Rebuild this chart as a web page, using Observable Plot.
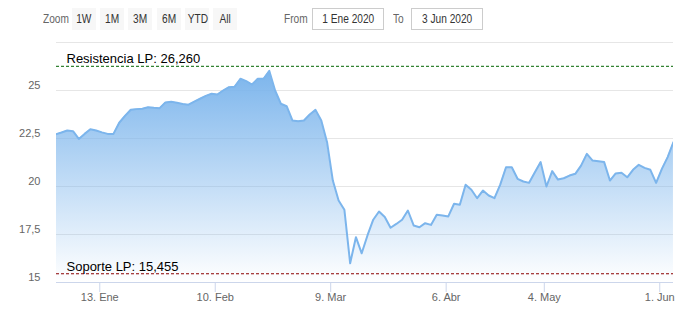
<!DOCTYPE html>
<html><head><meta charset="utf-8">
<script src="https://cdn.jsdelivr.net/npm/d3@7"></script>
<script src="https://cdn.jsdelivr.net/npm/@observablehq/plot@0.6"></script>
<style>
body{margin:0;background:#fff;}
#wrap{position:relative;width:686px;height:322px;overflow:hidden;}
.tb{position:absolute;font-family:"Liberation Sans",Arial,sans-serif;font-size:13px;white-space:nowrap;}
.tb span{display:inline-block;transform:scaleX(0.78);}
.lbl{color:#666;top:11px;}
.lbl span{transform-origin:left center;}
.btn{background:#f7f7f7;color:#333;top:8px;width:24px;height:22px;line-height:22px;text-align:center;}
.inp{border:1px solid #ccc;color:#333;top:8px;width:70px;height:20px;line-height:20px;text-align:center;box-sizing:content-box;}
#chart{position:absolute;left:0;top:0;}
</style></head>
<body>
<div id="wrap">
  <div id="chart"></div>
  <div class="tb lbl" style="left:43px;"><span>Zoom</span></div>
  <div class="tb btn" style="left:72px;"><span>1W</span></div>
  <div class="tb btn" style="left:100px;"><span>1M</span></div>
  <div class="tb btn" style="left:128px;"><span>3M</span></div>
  <div class="tb btn" style="left:157px;"><span>6M</span></div>
  <div class="tb btn" style="left:185px;"><span>YTD</span></div>
  <div class="tb btn" style="left:213px;"><span>All</span></div>
  <div class="tb lbl" style="left:284px;"><span>From</span></div>
  <div class="tb inp" style="left:312px;"><span>1 Ene 2020</span></div>
  <div class="tb lbl" style="left:393px;"><span>To</span></div>
  <div class="tb inp" style="left:411px;"><span>3 Jun 2020</span></div>
</div>
<script>
// Closing prices, one per trading day from 31 Dec 2019 to 3 Jun 2020
const close = [22.72, 22.81, 22.92, 22.88, 22.48, 22.74, 22.98, 22.92, 22.82, 22.74,
  22.74, 23.32, 23.68, 24.0, 24.03, 24.05, 24.13, 24.10, 24.08, 24.38,
  24.41, 24.36, 24.30, 24.26, 24.42, 24.57, 24.72, 24.83, 24.79, 25.0,
  25.17, 25.20, 25.61, 25.49, 25.31, 25.61, 25.61, 26.02, 25.0, 24.31,
  24.18, 23.44, 23.40, 23.44, 23.75, 23.99, 23.44, 22.31, 20.31, 19.27,
  18.79, 16.0, 17.36, 16.52, 17.45, 18.27, 18.70, 18.41, 17.85, 18.05,
  18.27, 18.75, 17.97, 17.88, 18.09, 18.0, 18.53, 18.49, 18.44, 19.10,
  19.05, 20.09, 19.83, 19.39, 19.79, 19.53, 19.39, 20.10, 21.0, 21.0,
  20.40, 20.26, 20.19, 20.74, 21.27, 20.0, 20.80, 20.36, 20.43, 20.57,
  20.66, 21.09, 21.70, 21.35, 21.31, 21.27, 20.31, 20.68, 20.72, 20.48,
  20.87, 21.13, 20.97, 20.87, 20.19, 20.92, 21.53, 22.31];
const holidays = ["2020-01-01", "2020-04-10", "2020-04-13", "2020-05-01"];
const startDate = "2019-12-31", endDate = "2020-06-03";
const tickDates = ["2020-01-13", "2020-02-10", "2020-03-09", "2020-04-06", "2020-05-04", "2020-06-01"];
const tickLabels = ["13. Ene", "10. Feb", "9. Mar", "6. Abr", "4. May", "1. Jun"];
const yTicks = [15, 17.5, 20, 22.5, 25];
const gridValues = [17.5, 20, 22.5, 25, 27.5];
const resistance = 26.26, resistanceLabel = "Resistencia LP: 26,260";
const support = 15.455, supportLabel = "Soporte LP: 15,455";

// trading-day calendar (ordinal axis)
const days = [];
for (let t = new Date(startDate + "T00:00:00Z"); t <= new Date(endDate + "T00:00:00Z"); t = new Date(t.getTime() + 864e5)) {
  const iso = t.toISOString().slice(0, 10), wd = t.getUTCDay();
  if (wd === 0 || wd === 6 || holidays.includes(iso)) continue;
  days.push(iso);
}
const data = close.map((v, k) => ({k, v, date: days[k]}));
const tickPos = tickDates.map(d => days.indexOf(d) - 0.37);
const labelMap = new Map(tickPos.map((p, i) => [p, tickLabels[i]]));

const gradient = () => {
  const ns = "http://www.w3.org/2000/svg";
  const defs = document.createElementNS(ns, "defs");
  defs.innerHTML = '<linearGradient id="ag" x1="0" y1="0" x2="0" y2="1">' +
    '<stop offset="0" stop-color="#7cb5ec" stop-opacity="1"/>' +
    '<stop offset="1" stop-color="#7cb5ec" stop-opacity="0"/></linearGradient>';
  return defs;
};

const chart = Plot.plot({
  width: 686, height: 322,
  marginTop: 42, marginBottom: 40, marginLeft: 56, marginRight: 13,
  x: {type: "linear", domain: [0.134, 107.01]},
  y: {domain: [15, 27.5]},
  style: {fontFamily: "'Liberation Sans', Arial, sans-serif", fontSize: "11px", color: "#666", background: "transparent"},
  marks: [
    gradient,
    Plot.ruleY(gridValues, {stroke: "#e6e6e6"}),
    Plot.areaY(data, {x: "k", y1: 15, y2: "v", fill: "url(#ag)", clip: true}),
    Plot.lineY(data, {x: "k", y: "v", stroke: "#7cb5ec", strokeWidth: 2, clip: true}),
    Plot.ruleY([15], {stroke: "#ccd6eb"}),
    Plot.ruleY([resistance], {stroke: "#006400", strokeDasharray: "3,2"}),
    Plot.ruleY([support], {stroke: "#8b0000", strokeDasharray: "3,2"}),
    Plot.text([resistanceLabel], {text: d => d, y: resistance, frameAnchor: "left", dx: 10, dy: -7, fill: "#000", fontSize: 13, textAnchor: "start"}),
    Plot.text([supportLabel], {text: d => d, y: support, frameAnchor: "left", dx: 10, dy: -7, fill: "#000", fontSize: 13, textAnchor: "start"}),
    Plot.axisY(yTicks, {tickSize: 0, tickPadding: 16, dy: -5.5, fill: "#666", label: null, tickFormat: d => String(d).replace(".", ",")}),
    Plot.axisX(tickPos, {tickSize: 10, tickPadding: 1, stroke: "#ccd6eb", fill: "#666", label: null, tickFormat: d => labelMap.get(d)})
  ]
});
document.getElementById("chart").appendChild(chart);
</script>
</body></html>
